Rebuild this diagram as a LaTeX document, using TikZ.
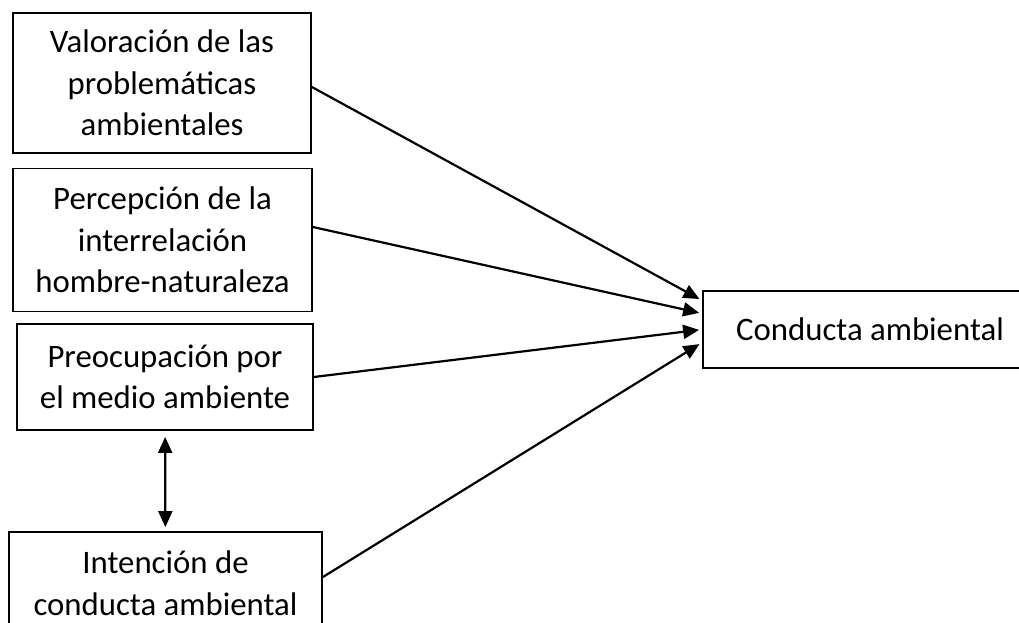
\documentclass[tikz,border=0pt]{standalone}
\usepackage{fontspec}
\setmainfont{Carlito}
\usetikzlibrary{positioning, arrows.meta}

\tikzset{
    caja/.style={draw,
        line width=1.8pt,
        inner sep=0pt,
        align=center,
        font=\fontsize{32.8}{41.5}\selectfont
    },
    flecha/.style={line width=2.2pt, -{Triangle[length=16pt,width=14pt]}}
}

\begin{document}
\begin{tikzpicture}[x=1pt, y=-1pt]
    \useasboundingbox (0,0) rectangle (1019,622);

    \node [caja,
        minimum width=298pt,
        minimum height=140pt
    ] (valoracion) at (162,83) {Valoración de las\\problemáticas\\ambientales};

    \node [caja,
        minimum width=299pt,
        minimum height=143pt
    ] (percepcion) at (162.5,240) {Percepción de la\\interrelación\\hombre-naturaleza};

    \node [caja,
        minimum width=296pt,
        minimum height=106pt
    ] (preocupacion) at (165,377) {Preocupación por\\el medio ambiente};

    \node [caja,
        minimum width=313pt,
        minimum height=102pt
    ] (intencion) at (165.5,583) {Intención de\\conducta ambiental};

    \node [caja,
        minimum width=334pt,
        minimum height=77pt
    ] (conducta) at (870,329.5) {Conducta ambiental};

    % flechas %
    \draw[flecha, shorten >=3pt] ([yshift=-4pt]valoracion.east) -- ([yshift=29pt]conducta.west);
    \draw[flecha, shorten >=3pt] ([yshift=13pt]percepcion.east) -- ([yshift=16pt]conducta.west);
    \draw[flecha, shorten >=3pt] (preocupacion.east) -- ([yshift=0pt]conducta.west);
    \draw[flecha, shorten >=3pt] ([yshift=6pt]intencion.east) -- ([yshift=-13pt]conducta.west);
    \draw[flecha, {Triangle[length=16pt,width=14pt]}-{Triangle[length=16pt,width=14pt]},
        shorten <=6pt, shorten >=4pt] (preocupacion) -- (intencion);
\end{tikzpicture}
\end{document}
